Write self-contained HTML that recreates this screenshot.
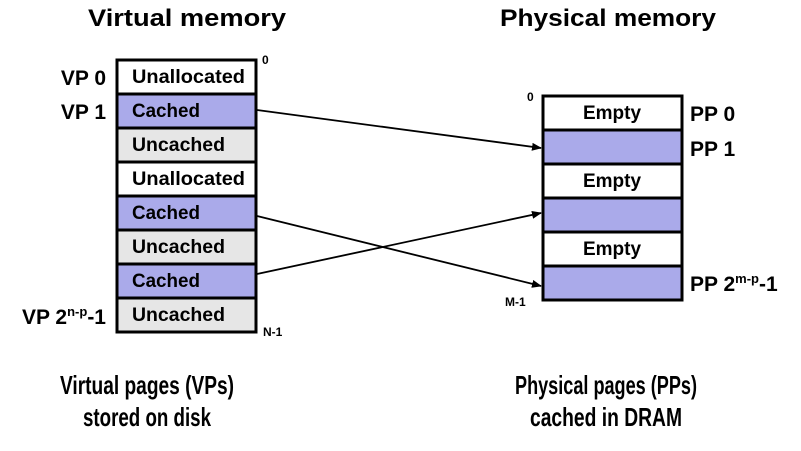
<!DOCTYPE html>
<html><head><meta charset="utf-8"><style>
html,body{margin:0;padding:0;background:#fff;}
svg text{font-family:"Liberation Sans",sans-serif;font-weight:bold;fill:#000;}
</style></head><body>
<svg width="801" height="446" viewBox="0 0 801 446" xmlns="http://www.w3.org/2000/svg">
<defs><marker id="a" markerWidth="10" markerHeight="8" refX="9" refY="4" orient="auto" markerUnits="userSpaceOnUse"><path d="M0,0 L10,4 L0,8 z" fill="#000"/></marker></defs>
<text x="187" y="26" font-size="24" text-anchor="middle" textLength="198" lengthAdjust="spacingAndGlyphs">Virtual memory</text>
<text x="608" y="26" font-size="24" text-anchor="middle" textLength="216" lengthAdjust="spacingAndGlyphs">Physical memory</text>
<g stroke="#000" stroke-width="3">
<rect x="117" y="60" width="139" height="34" fill="#fff"/>
<rect x="117" y="94" width="139" height="34" fill="#aaaaea"/>
<rect x="117" y="128" width="139" height="34" fill="#e6e6e6"/>
<rect x="117" y="162" width="139" height="34" fill="#fff"/>
<rect x="117" y="196" width="139" height="34" fill="#aaaaea"/>
<rect x="117" y="230" width="139" height="34" fill="#e6e6e6"/>
<rect x="117" y="264" width="139" height="34" fill="#aaaaea"/>
<rect x="117" y="298" width="139" height="34" fill="#e6e6e6"/>
</g>
<g font-size="19">
<text x="132" y="83" textLength="113" lengthAdjust="spacingAndGlyphs">Unallocated</text>
<text x="132" y="117" textLength="68" lengthAdjust="spacingAndGlyphs">Cached</text>
<text x="132" y="151" textLength="93" lengthAdjust="spacingAndGlyphs">Uncached</text>
<text x="132" y="185" textLength="113" lengthAdjust="spacingAndGlyphs">Unallocated</text>
<text x="132" y="219" textLength="68" lengthAdjust="spacingAndGlyphs">Cached</text>
<text x="132" y="253" textLength="93" lengthAdjust="spacingAndGlyphs">Uncached</text>
<text x="132" y="287" textLength="68" lengthAdjust="spacingAndGlyphs">Cached</text>
<text x="132" y="321" textLength="93" lengthAdjust="spacingAndGlyphs">Uncached</text>
</g>
<text x="106" y="85" font-size="21" text-anchor="end">VP 0</text>
<text x="106" y="119" font-size="21" text-anchor="end">VP 1</text>
<text x="106" y="324" font-size="21" text-anchor="end">VP 2<tspan font-size="13" dy="-8">n-p</tspan><tspan dy="8">-1</tspan></text>
<text x="262" y="64" font-size="12">0</text>
<text x="263" y="336" font-size="12">N-1</text>
<g stroke="#000" stroke-width="3">
<rect x="543" y="96" width="139" height="34" fill="#fff"/>
<rect x="543" y="130" width="139" height="34" fill="#aaaaea"/>
<rect x="543" y="164" width="139" height="34" fill="#fff"/>
<rect x="543" y="198" width="139" height="34" fill="#aaaaea"/>
<rect x="543" y="232" width="139" height="34" fill="#fff"/>
<rect x="543" y="266" width="139" height="34" fill="#aaaaea"/>
</g>
<g font-size="19" text-anchor="middle">
<text x="612" y="119">Empty</text>
<text x="612" y="187">Empty</text>
<text x="612" y="255">Empty</text>
</g>
<text x="690" y="121" font-size="21">PP 0</text>
<text x="690" y="156" font-size="21">PP 1</text>
<text x="690" y="291" font-size="21">PP 2<tspan font-size="13" dy="-8">m-p</tspan><tspan dy="8">-1</tspan></text>
<text x="527" y="101" font-size="12">0</text>
<text x="505" y="306" font-size="12">M-1</text>
<g stroke="#000" stroke-width="1.8" marker-end="url(#a)">
<line x1="257" y1="110" x2="541" y2="148"/>
<line x1="257" y1="216" x2="541" y2="286"/>
<line x1="257" y1="274" x2="541" y2="213"/>
</g>
<text x="147" y="394" font-size="26" text-anchor="middle" textLength="174" lengthAdjust="spacingAndGlyphs">Virtual pages (VPs)</text>
<text x="147" y="426" font-size="26" text-anchor="middle" textLength="128" lengthAdjust="spacingAndGlyphs">stored on disk</text>
<text x="606" y="394" font-size="26" text-anchor="middle" textLength="182" lengthAdjust="spacingAndGlyphs">Physical pages (PPs)</text>
<text x="606" y="426" font-size="26" text-anchor="middle" textLength="152" lengthAdjust="spacingAndGlyphs">cached in DRAM</text>
</svg>
</body></html>
